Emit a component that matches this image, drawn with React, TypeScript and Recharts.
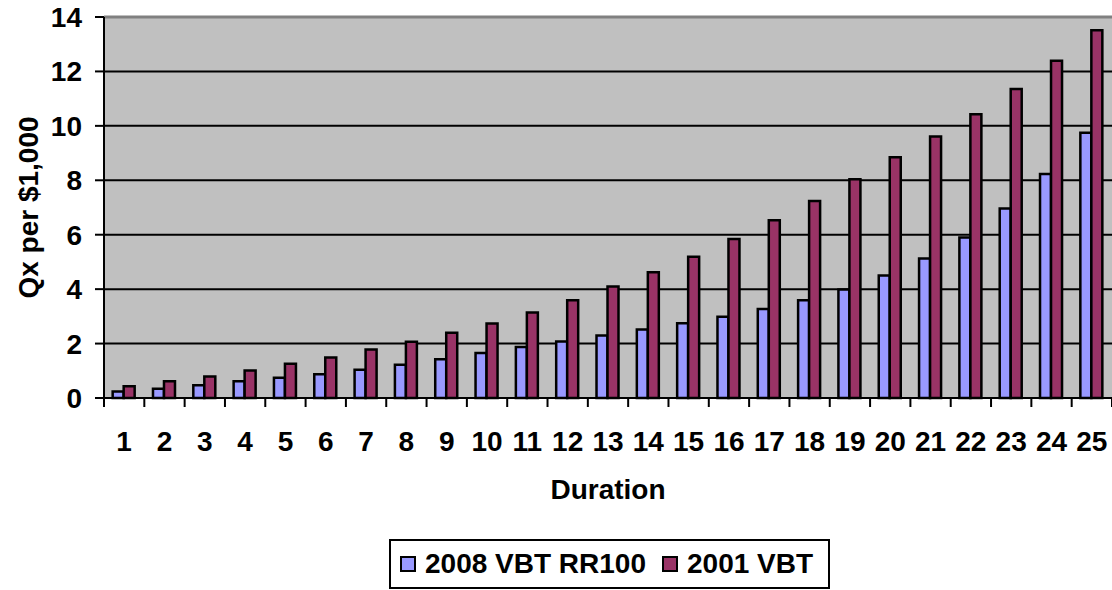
import React from 'react';
import { BarChart, Bar, XAxis, YAxis, CartesianGrid, Legend, ReferenceLine } from 'recharts';

const durations = ['1','2','3','4','5','6','7','8','9','10','11','12','13','14','15','16','17','18','19','20','21','22','23','24','25'];
const vbt2008 = [0.24,0.34,0.47,0.62,0.74,0.87,1.04,1.22,1.42,1.65,1.87,2.08,2.30,2.52,2.75,2.99,3.27,3.59,3.99,4.50,5.13,5.90,6.96,8.23,9.75];
const vbt2001 = [0.43,0.62,0.79,1.01,1.26,1.49,1.78,2.07,2.40,2.74,3.14,3.59,4.10,4.62,5.19,5.84,6.53,7.24,8.04,8.85,9.61,10.43,11.35,12.39,13.51];
const yTicks = [0,2,4,6,8,10,12,14];

const SERIES = [
  { key: 'a', name: '2008 VBT RR100', color: '#9999FF' },
  { key: 'b', name: '2001 VBT', color: '#993366' },
];

const data = durations.map((d, i) => ({ d, a: vbt2008[i], b: vbt2001[i] }));

const W = 1112;
const H = 590;
const Y_AXIS_W = 104;
const FONT = 'Arial, "Liberation Sans", sans-serif';
const FS = 28;
const TICK_SIZE = 9;
const TICK_MARGIN = 24;
const STEP = (W - Y_AXIS_W) / durations.length;

const XTick = (props: any) => {
  const { x, y, payload, index } = props;
  const axisY = y - TICK_SIZE - TICK_MARGIN;
  const left = x - STEP / 2;
  const right = x + STEP / 2;
  return (
    <g>
      <line x1={left} x2={left} y1={axisY} y2={axisY + TICK_SIZE} stroke="#000" strokeWidth={2} />
      {index === durations.length - 1 && (
        <line x1={right} x2={right} y1={axisY} y2={axisY + TICK_SIZE} stroke="#000" strokeWidth={2} />
      )}
      <text x={x} y={y} dy="0.71em" textAnchor="middle" fill="#000" fontFamily={FONT} fontWeight="bold" fontSize={FS}>
        {payload.value}
      </text>
    </g>
  );
};

const LegendBox = () => (
  <div
    style={{
      width: 441,
      height: 50,
      boxSizing: 'border-box',
      border: '2px solid #000',
      background: '#fff',
      display: 'flex',
      alignItems: 'center',
      paddingLeft: 9,
      fontFamily: FONT,
      fontWeight: 'bold',
      fontSize: FS,
      color: '#000',
      whiteSpace: 'nowrap',
    }}
  >
    {SERIES.map((s, i) => (
      <div key={s.key} style={{ display: 'flex', alignItems: 'center', marginRight: i === 0 ? 16 : 0 }}>
        <span
          style={{
            display: 'inline-block',
            width: 16,
            height: 16,
            boxSizing: 'border-box',
            background: s.color,
            border: '2px solid #000',
            marginRight: 9,
          }}
        />
        <span>{s.name}</span>
      </div>
    ))}
  </div>
);

export default function App() {
  return (
    <div style={{ position: 'absolute', left: 0, top: 0, width: W, height: H, background: '#fff' }}>
      <BarChart
        width={W}
        height={H}
        data={data}
        margin={{ top: 17, right: 0, left: 0, bottom: 132 }}
        barCategoryGap="21.5%"
        barGap={0}
      >
        <CartesianGrid vertical={false} stroke="#000" strokeWidth={2} fill="#C0C0C0" fillOpacity={1} />
        <XAxis
          dataKey="d"
          height={60}
          axisLine={{ stroke: '#000', strokeWidth: 2 }}
          tickLine={false}
          tickSize={TICK_SIZE}
          tickMargin={TICK_MARGIN}
          interval={0}
          tick={<XTick />}
          label={(p: any) => {
            const vb = p.viewBox || {};
            return (
              <text
                x={(vb.x ?? Y_AXIS_W) + (vb.width ?? W - Y_AXIS_W) / 2}
                y={(vb.y ?? 398) + 101}
                textAnchor="middle"
                fill="#000"
                fontFamily={FONT}
                fontWeight="bold"
                fontSize={FS}
              >
                Duration
              </text>
            );
          }}
        />
        <YAxis
          width={Y_AXIS_W}
          domain={[0, 14]}
          ticks={yTicks}
          interval={0}
          axisLine={{ stroke: '#000', strokeWidth: 2 }}
          tickLine={{ stroke: '#000', strokeWidth: 2 }}
          tickSize={TICK_SIZE}
          tickMargin={13}
          tick={{ fill: '#000', fontFamily: FONT, fontWeight: 'bold', fontSize: FS }}
          label={(p: any) => {
            const vb = p.viewBox || {};
            const cy = (vb.y ?? 17) + (vb.height ?? 381) / 2;
            return (
              <text
                x={38}
                y={cy}
                transform={`rotate(-90, 38, ${cy})`}
                textAnchor="middle"
                fill="#000"
                fontFamily={FONT}
                fontWeight="bold"
                fontSize={FS}
              >
                Qx per $1,000
              </text>
            );
          }}
        />
        <ReferenceLine y={14} stroke="#808080" strokeWidth={3} />
        <Legend
          layout="horizontal"
          verticalAlign="middle"
          align="center"
          content={<LegendBox />}
          wrapperStyle={{ left: 389, top: 539, width: 441, height: 50 }}
        />
        {SERIES.map((s) => (
          <Bar
            key={s.key}
            dataKey={s.key}
            name={s.name}
            fill={s.color}
            stroke="#000"
            strokeWidth={2.5}
            isAnimationActive={false}
          />
        ))}
      </BarChart>
    </div>
  );
}
